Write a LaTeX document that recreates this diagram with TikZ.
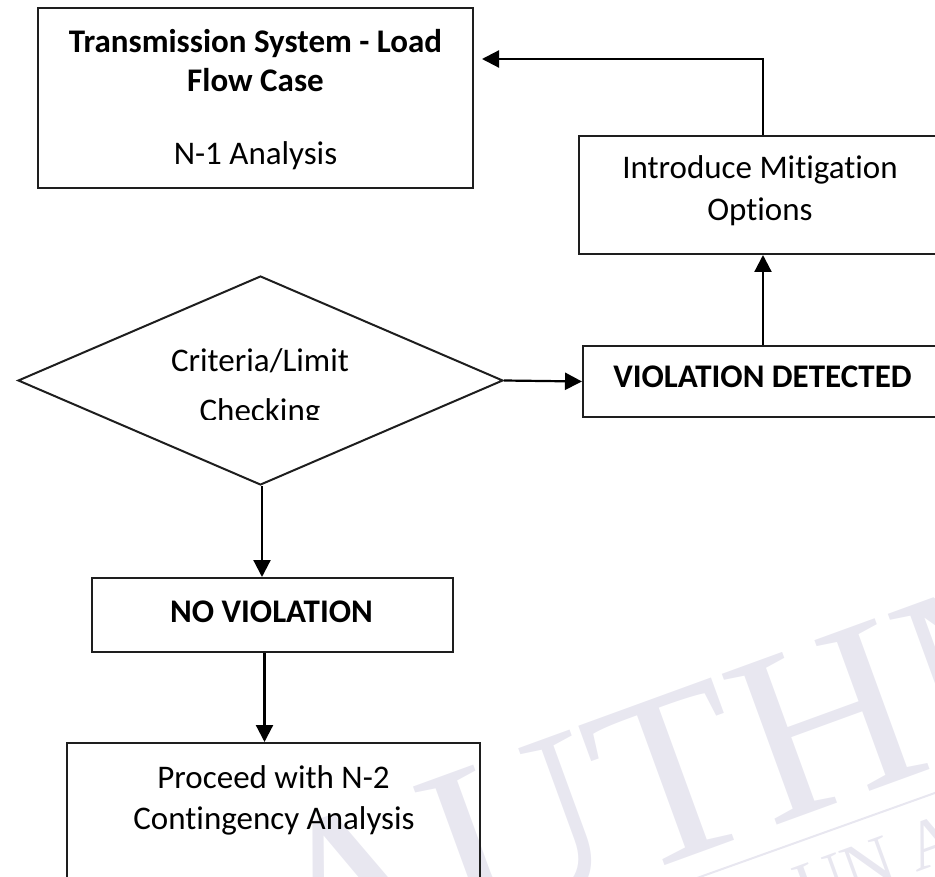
\documentclass[tikz,border=0pt]{standalone}
\usepackage{fontspec}
\setmainfont{Carlito}[Ligatures=NoCommon]
\newfontfamily\wmfont{Liberation Serif}
\usetikzlibrary{arrows.meta,shapes.geometric}
\definecolor{wmark}{HTML}{E8E7F0}
\definecolor{edge}{HTML}{1E1E1E}
\tikzset{
  box/.style={draw=edge, line width=2pt, rectangle, inner sep=0pt},
  decision/.style={draw=edge, line width=2pt, diamond, inner sep=0pt},
  lbl/.style={inner sep=0pt, anchor=base, text=black, font=\fontsize{33}{40}\selectfont},
  lblb/.style={lbl, font=\fontsize{33}{40}\selectfont\bfseries},
  flow/.style={draw=black, line width=2.2pt, -{Triangle[length=17pt,width=17pt]}},
  wm/.style={text=wmark, inner sep=0pt, anchor=base west, rotate=20}
}
\begin{document}
\begin{tikzpicture}[x=1pt,y=-1pt]
\clip (0,0) rectangle (935,877);

% faint background watermark
\node[wm, font=\wmfont\fontsize{245}{245}\selectfont] (wmbig) at (297,1000) {AUTHN};
\coordinate (wml1) at (600,912.7);
\coordinate (wml2) at (960,784);
\draw[wmark, line width=2pt] (wml1) -- (wml2);
\node[wm, font=\wmfont\fontsize{70}{70}\selectfont] (wmsmall) at (805,913) {UN A};

% boxes
\node[box, minimum width=435pt, minimum height=180pt] (src) at (255.5,98) {};
\node[box, minimum width=368pt, minimum height=118pt] (mit) at (763,195) {};
\node[box, minimum width=360pt, minimum height=71pt] (det) at (763,381.5) {};
\node[decision, minimum width=485pt, minimum height=209pt] (chk) at (260.5,380.5) {};
\node[box, minimum width=361pt, minimum height=74pt] (nov) at (272.5,615) {};
\node[box, minimum width=413pt, minimum height=200pt] (nxt) at (273.5,843) {};

% labels
\node[lblb] (t1a) at (255.5,53) {Transmission System - Load};
\node[lblb] (t1b) at (255.5,92) {Flow Case};
\node[lbl] (t1c) at (255.5,165) {N-1 Analysis};
\node[lbl] (t2a) at (760,179) {Introduce Mitigation};
\node[lbl] (t2b) at (760,220.5) {Options};
\node[lblb] (t3) at (762.5,388) {VIOLATION DETECTED};
\node[lbl] (t4a) at (260,372) {Criteria/Limit};
\begin{scope}
  \clip (0,0) rectangle (935,419.5);
  \node[lbl] (t4b) at (260,421) {Checking};
\end{scope}
\node[lblb] (t5) at (271.5,622.5) {NO VIOLATION};
\node[lbl] (t6a) at (273.5,788) {Proceed with N-2};
\node[lbl] (t6b) at (274,829) {Contingency Analysis};

% connectors
\coordinate (backtip) at (482,59);
\draw[flow] (mit.north) |- (backtip);
\draw[flow] (det.north) -- (mit.south);
\draw[flow] (chk.east) -- (det.west);
\draw[flow] ([xshift=1.5pt]chk.south) -- ([xshift=1.5pt]chk.south |- nov.north);
\draw[flow] ([xshift=-8pt]nov.south) -- ([xshift=-8pt]nov.south |- nxt.north);
\end{tikzpicture}
\end{document}
